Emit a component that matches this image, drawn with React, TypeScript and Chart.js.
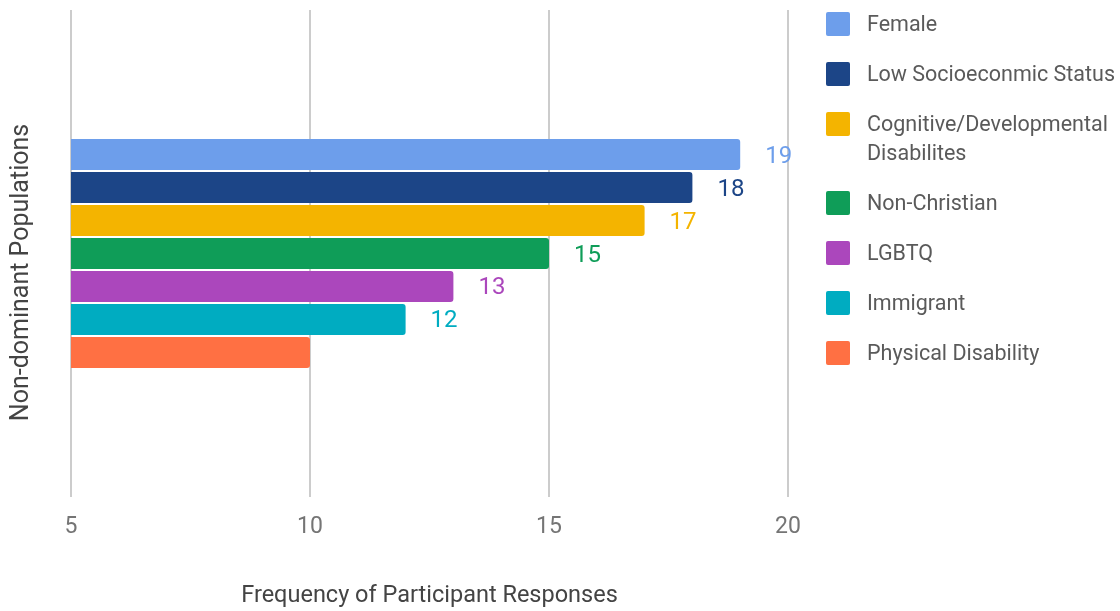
import { useEffect, useRef } from "react";
import { Chart, registerables } from "chart.js";

Chart.register(...registerables);

// Single category, one dataset per population group
const categories = [""];
const seriesLabels = [
  "Female",
  "Low Socioeconmic Status",
  "Cognitive/Developmental Disabilites",
  "Non-Christian",
  "LGBTQ",
  "Immigrant",
  "Physical Disability",
];
const seriesValues = [19, 18, 17, 15, 13, 12, 10];
const seriesColors = ["#6d9eeb", "#1c4587", "#f4b400", "#0f9d58", "#ab47bc", "#00acc1", "#ff7043"];
const valueLabelShown = [true, true, true, true, true, true, false];
const xTickValues = [5, 10, 15, 20];
const xTitle = "Frequency of Participant Responses";
const yTitle = "Non-dominant Populations";

const FONT = "Roboto, 'Noto Sans', sans-serif";

function wrapWords(ctx: CanvasRenderingContext2D, text: string, maxWidth: number): string[] {
  const words = text.split(" ");
  const lines: string[] = [];
  let line = "";
  for (const w of words) {
    const test = line ? line + " " + w : w;
    if (line && ctx.measureText(test).width > maxWidth) {
      lines.push(line);
      line = w;
    } else {
      line = test;
    }
  }
  if (line) lines.push(line);
  return lines;
}

const decorPlugin = {
  id: "decor",
  afterDatasetsDraw(chart: any) {
    const ctx: CanvasRenderingContext2D = chart.ctx;
    ctx.save();
    ctx.font = `24px ${FONT}`;
    ctx.textAlign = "left";
    ctx.textBaseline = "middle";
    chart.data.datasets.forEach((ds: any, i: number) => {
      if (!valueLabelShown[i]) return;
      const meta = chart.getDatasetMeta(i);
      meta.data.forEach((bar: any, j: number) => {
        ctx.fillStyle = seriesColors[i];
        ctx.fillText(String(ds.data[j]), bar.x + 25, bar.y + 2);
      });
    });
    ctx.restore();
  },
  afterDraw(chart: any) {
    const ctx: CanvasRenderingContext2D = chart.ctx;
    const area = chart.chartArea;
    ctx.save();

    // vertical axis title
    ctx.font = `25px ${FONT}`;
    ctx.fillStyle = "#444444";
    ctx.textAlign = "center";
    ctx.textBaseline = "middle";
    ctx.translate(22, (area.top + area.bottom) / 2 + 19);
    ctx.rotate(-Math.PI / 2);
    ctx.fillText(yTitle, 0, 0);
    ctx.setTransform(1, 0, 0, 1, 0, 0);

    // legend on the right
    const boxX = area.right + 38;
    const textX = boxX + 41;
    const boxSize = 24;
    const itemGap = 50;
    const lineHeight = 29;
    let y = 24;
    ctx.font = `21.5px ${FONT}`;
    ctx.textAlign = "left";
    ctx.textBaseline = "middle";
    seriesLabels.forEach((label, i) => {
      const lines = wrapWords(ctx, label, chart.width - textX + 6);
      ctx.fillStyle = seriesColors[i];
      ctx.beginPath();
      (ctx as any).roundRect(boxX, y - boxSize / 2, boxSize, boxSize, 2);
      ctx.fill();
      ctx.fillStyle = "#5a5a5a";
      lines.forEach((ln, k) => ctx.fillText(ln, textX, y + 2 + k * lineHeight));
      y += itemGap + (lines.length - 1) * lineHeight;
    });
    ctx.restore();
  },
};

export default function App() {
  const canvasRef = useRef<HTMLCanvasElement | null>(null);

  useEffect(() => {
    const canvas = canvasRef.current;
    if (!canvas) return;
    const chart = new Chart(canvas, {
      type: "bar",
      data: {
        labels: categories,
        datasets: seriesLabels.map((label, i) => ({
          label,
          data: [seriesValues[i]],
          backgroundColor: seriesColors[i],
          borderWidth: 0,
          borderRadius: 3,
          borderSkipped: "start",
          categoryPercentage: 0.474,
          barPercentage: 0.94,
        })),
      },
      options: {
        indexAxis: "y",
        animation: false,
        responsive: false,
        maintainAspectRatio: false,
        devicePixelRatio: 1,
        layout: { padding: { left: 71, right: 332, top: 10, bottom: 0 } },
        plugins: {
          legend: { display: false },
          tooltip: { enabled: false },
        },
        scales: {
          x: {
            type: "linear",
            position: "bottom",
            min: 5,
            max: 20,
            afterBuildTicks: (scale: any) => {
              scale.ticks = xTickValues.map((v) => ({ value: v }));
            },
            afterFit: (scale: any) => {
              scale.height = 114;
            },
            grid: { color: "#cccccc", lineWidth: 2, drawTicks: false },
            border: { display: false },
            ticks: {
              padding: 16,
              color: "#757575",
              font: { family: FONT, size: 23 },
              maxRotation: 0,
            },
            title: {
              display: true,
              text: xTitle,
              color: "#444444",
              font: { family: FONT, size: 23.5 },
              padding: { top: 0, bottom: 1 },
            },
          },
          y: {
            type: "category",
            display: false,
          },
        },
      },
      plugins: [decorPlugin],
    } as any);
    return () => chart.destroy();
  }, []);

  return (
    <div style={{ position: "fixed", left: 0, top: 0, width: 1120, height: 611, background: "#ffffff" }}>
      <canvas ref={canvasRef} width={1120} height={611} />
    </div>
  );
}
